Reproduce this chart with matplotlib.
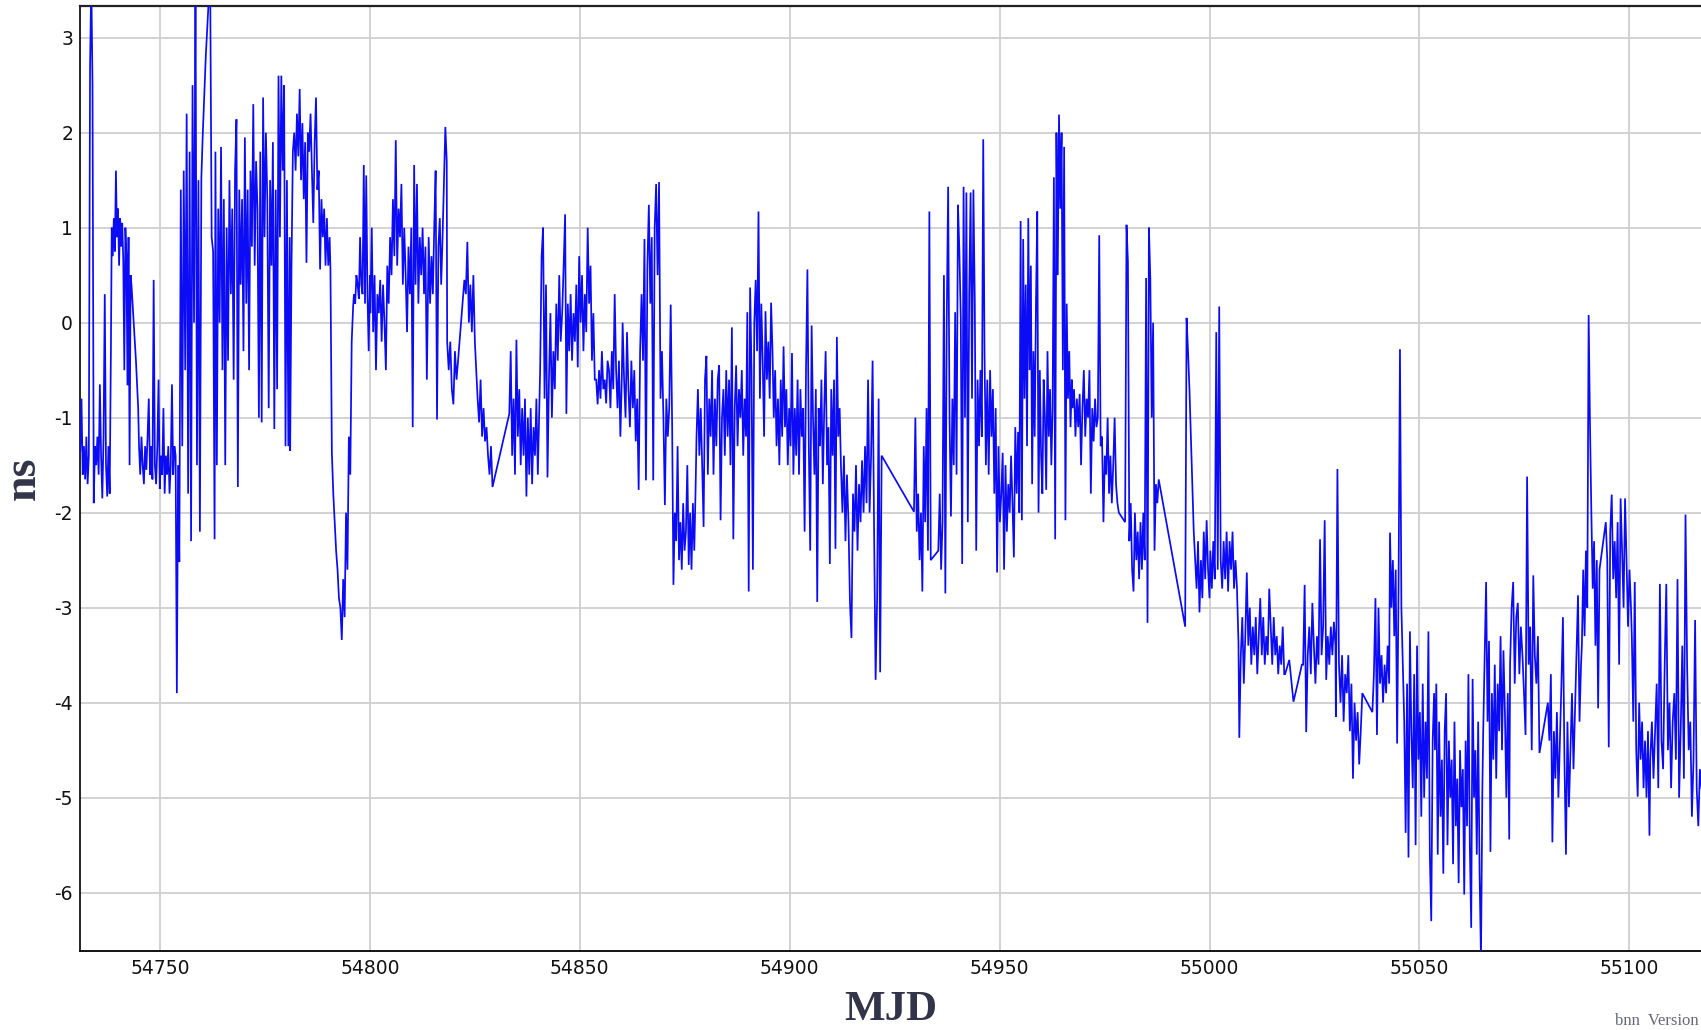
import numpy as np
import matplotlib
matplotlib.use("Agg")
import matplotlib.pyplot as plt

# ---- data: (start MJD, end MJD) spans and values in ns ----
A1_span = (54731.0, 54738.3)
A1 = [-1.35, -0.8, -1.6, -1.3, -1.65, -1.2, -1.7, -1.4, 2.7, 3.6, 2.5, -1.9, -1.3, -1.5, -1.2, -1.6,
      -0.65, -1.4, -1.85, -1.2, 0.3, -1.5, -1.83, -1.3, -1.8, -0.3]
A2_span = (54738.5, 54743.0)
A2 = [1.0, 0.7, 1.1, 0.75, 1.6, 0.9, 1.2, 0.6, 1.1, 0.8, 1.05, 0.65, -0.5, 1.0, 0.7, -0.66, 0.9, -1.5, 0.5]
A3_span = (54743.2, 54744.8)
A3 = [0.4, 0.0, -0.4, -0.9]
A4_span = (54745.0, 54754.3)
A4 = [-1.3, -1.6, -1.2, -1.5, -1.7, -1.3, -1.55, -1.2, -0.8, -1.6, -1.3, -1.65, 0.45, -1.5, -1.7, -1.3,
      -0.6, -1.75, -1.4, -1.6, -0.9, -1.8, -1.4, -1.6, -1.3, -1.8, -1.5, -0.65, -1.6, -1.3, -1.4, -3.9, -1.5]
A5_span = (54754.6, 54763.0)
A5 = [-2.52, 1.4, -1.3, 1.6, -0.5, 2.2, -1.8, 1.8, -2.3, 2.5, 0.0, 3.6, -1.5, 1.5, -2.2, 1.53, 2.0, 2.4,
      2.8, 3.1, 3.4, 3.6, 0.9, 0.75, -2.28]
A6_span = (54763.2, 54780.9)
A6 = [1.8, -1.5, 1.2, 0.0, 1.85, -0.5, 1.3, -1.5, 1.0, -0.4, 1.5, 0.3, 1.2, -0.6, 1.6, 2.14, -1.73, 1.4,
      0.4, 1.3, -0.3, 1.95, 0.2, 1.4, -0.5, 1.6, 0.8, 2.3, 0.6, 1.7, 1.2, -1.0, 1.8, -1.05, 2.37, 0.9,
      2.0, 1.3, -0.9, 1.5, 0.6, 1.9, -1.12, 1.4, -0.7, 2.6, 0.9, 2.6, 1.6, 2.5, -1.3, 1.5, -1.3, 0.9]
A7_span = (54781.0, 54790.4)
A7 = [-1.35, 0.6, 1.8, 2.0, 1.6, 2.2, 1.75, 2.46, 1.5, 2.1, 1.3, 1.9, 0.63, 2.0, 1.8, 2.2, 1.6, 1.05,
      1.9, 2.37, 1.4, 1.6, 0.56, 1.3, 0.9, 1.2, 0.6, 1.1, 0.6, 0.9]
A8_span = (54790.6, 54796.0)
A8 = [0.56, -1.37, -1.8, -2.1, -2.4, -2.6, -2.9, -3.0, -3.34, -2.7, -3.1, -2.0, -2.6, -1.2, -1.6, -0.2, 0.17]

B1_span = (54796.2, 54800.0)
B1 = [0.3, 0.2, 0.5, 0.4, 0.25, 0.9, 0.4, 0.3, 1.66, 0.2, 1.55, 0.3, -0.3, 0.5]
B2_span = (54800.1, 54813.9)
B2 = [0.1, 1.0, -0.1, 0.5, -0.5, 0.3, 0.1, 0.45, -0.2, 0.4, 0.0, -0.5, 0.6, 0.2, 0.9, 0.5, 1.3, 0.7,
      1.92, 0.6, 1.2, 0.9, 1.46, 0.4, 1.0, 0.5, -0.1, 0.8, 0.3, 1.0, -1.1, 1.66, 0.4, 1.46, 0.2, 0.9,
      0.5, 1.0, 0.3, 0.8, -0.6, 0.6]
B3_span = (54814.0, 54818.3)
B3 = [0.9, 0.2, 0.7, 0.3, 1.0, 1.6, -1.02, 0.8, 1.1, 0.4, 0.9, 1.5, 2.06, 1.7]
B4_span = (54818.4, 54821.0)
B4 = [-0.2, -0.5, -0.2, -0.7, -0.86, -0.3, -0.6, -0.4]
B5_span = (54822.5, 54825.0)
B5 = [0.45, 0.3, 0.85, 0.0, 0.4, -0.1, 0.5, -0.2]
B6_span = (54825.3, 54829.2)
B6 = [-0.47, -0.8, -1.05, -0.6, -1.2, -0.9, -1.25, -1.1, -1.4, -1.6, -1.3, -1.73]

C1_span = (54833.2, 54840.0)
C1 = [-0.96, -0.3, -1.4, -0.8, -1.6, -0.18, -1.2, -0.7, -1.5, -0.9, -1.4, -0.8, -1.83, -1.0, -1.6, -0.9,
      -1.7, -1.1, -1.4, -0.8, -1.6]
C2_span = (54840.2, 54846.5)
C2 = [-1.2, -0.5, 0.7, 1.0, -0.8, 0.4, -1.63, -0.6, 0.1, -1.0, -0.3, -0.7, 0.2, -0.4, 0.5, -0.2, 0.1, 0.6, 1.14]
C3_span = (54846.8, 54860.0)
C3 = [-0.96, 0.2, -0.3, 0.3, -0.4, 0.1, -0.2, 0.4, -0.47, 0.7, 0.0, 0.5, -0.3, 0.3, -0.1, 1.0, 0.2, 0.6,
      -0.4, 0.1, -0.6, -0.6, -0.86, -0.5, -0.8, -0.3, -0.7, -0.6, -0.85, -0.4, -0.5, -0.9, -0.3, -0.7,
      0.3, -0.5, -0.9, -0.4, -1.2, -0.6]
C4_span = (54860.2, 54872.0)
C4 = [0.0, -0.6, -1.0, -0.1, -0.7, -1.1, -0.4, -0.9, -0.5, -1.25, -0.8, -1.76, -0.3, 0.3, -0.4, 0.88,
      -1.66, 0.6, 1.24, 0.2, 0.9, -1.66, 1.0, 1.46, 0.5, 1.48, -0.8, -0.3, -1.0, -1.92, -0.8, -1.2, -0.9,
      0.19, -1.1]
C5_span = (54872.3, 54877.6)
C5 = [-2.76, -2.0, -2.3, -1.3, -2.5, -2.1, -2.6, -1.9, -2.4, -2.2, -1.5, -2.55, -2.0, -2.6, -1.9, -2.4, -1.7]
C6_span = (54877.8, 54889.6)
C6 = [-1.2, -0.7, -1.4, -0.9, -1.5, -2.15, -0.6, -0.35, -1.6, -0.8, -1.2, -0.5, -1.6, -0.8, -1.3, -0.6,
      -0.45, -2.08, -1.0, -0.7, -1.4, -0.5, -1.2, -0.6, -1.5, -0.05, -2.28, -0.9, -0.45, -1.3, -0.7, -1.0,
      -0.5, -1.4, -0.8, -1.2]
C7_span = (54889.9, 54895.9)
C7 = [0.11, -2.83, 0.37, -0.5, -2.6, 0.0, 0.45, -0.3, 1.17, -0.8, 0.2, -0.4, -1.2, 0.12, -0.6, -0.2,
      -0.8, 0.21, -0.3]
C8_span = (54896.2, 54911.9)
C8 = [-1.0, -0.5, -1.3, -0.8, -1.5, -0.6, -1.2, -0.25, -1.1, -0.7, -1.5, -0.9, -1.3, -0.32, -1.6, -0.9,
      -1.4, -0.6, -1.6, -0.7, -1.2, -0.9, -2.2, -0.5, 0.56, -1.3, -2.4, -0.03, -1.0, -1.6, -0.7, -2.94,
      -0.9, -1.3, -0.6, -1.7, -0.9, -0.3, -1.5, -1.1, -2.54, -0.7, -1.4, -0.6, -2.38, -0.15, -1.2, -0.9]
C9_span = (54912.2, 54921.9)
C9 = [-1.5, -2.0, -1.4, -2.3, -1.6, -2.1, -2.95, -3.32, -1.8, -2.2, -1.5, -2.4, -1.7, -2.1, -1.45, -2.0,
      -1.3, -1.9, -0.6, -2.0, -1.4, -0.4, -2.2, -3.76, -2.9, -0.8, -3.68, -1.4]

D1_span = (54929.6, 54933.6)
D1 = [-1.99, -1.0, -2.2, -1.8, -2.5, -2.0, -2.83, -1.3, -2.1, -0.9, -2.4, 1.17, -2.5]
D2_span = (54935.4, 54946.1)
D2 = [-2.4, -1.8, -2.6, -2.1, 0.5, -2.85, 0.03, 1.43, -1.0, -2.04, -0.8, -1.5, 0.11, -1.6, 1.24, 0.76,
      0.05, -2.54, 1.43, -1.0, 1.37, -2.1, 0.3, 1.37, -0.8, 1.4, 0.2, -2.4, -0.6, -1.3, -0.5, -1.2, 1.93]
D3_span = (54946.4, 54954.4)
D3 = [-0.3, -1.5, -0.6, -1.6, -0.5, -1.2, -0.7, -1.8, -0.9, -2.63, -1.3, -2.1, -1.8, -1.37, -2.6, -1.5,
      -2.2, -1.7, -2.0, -1.4, -1.9, -2.47, -1.1, -1.8, -1.15]
D4_span = (54954.7, 54967.2)
D4 = [-2.0, 1.07, -2.08, 0.88, -0.8, 0.4, -1.3, 1.1, -0.5, 0.6, -1.7, -0.3, -1.2, 0.2, 1.17, -2.0, -0.5,
      -1.4, -1.8, -0.6, -1.0, -1.76, -0.3, -1.2, -0.7, -1.5, -0.9, 1.53, -2.28, 2.0, 0.5, 2.19, 1.2, 2.0,
      -0.5, 1.85, -2.08, 0.2, -0.8, -0.3, -1.1, -0.6]
D5_span = (54967.4, 54978.4)
D5 = [-0.9, -0.7, -1.2, -0.8, -1.1, -0.75, -1.5, -0.9, -0.5, -1.2, -0.8, -1.0, -0.5, -1.8, -0.9, -1.25,
      -0.8, -1.1, -1.0, 0.92, -1.3, -1.2, -2.1, -1.4, -1.6, -1.0, -1.8, -1.4, -1.9, -1.5, -1.0, -1.7,
      -1.9, -2.0]
D6_span = (54979.9, 54987.9)
D6 = [-2.1, 1.03, 0.64, -2.3, -1.9, -2.6, -2.83, -2.0, -2.5, -2.2, -2.7, -2.1, -2.6, -2.0, -2.5, 0.47,
      -3.16, 1.0, 0.47, -1.0, 0.0, -2.4, -1.7, -1.9, -1.65]

E1_span = (54994.2, 55000.0)
E1 = [-3.2, 0.05, -0.3, -0.7, -1.2, -1.7, -2.2, -2.5, -2.8, -2.3, -3.05, -2.5, -2.9, -2.2, -2.7, -2.08,
      -2.6, -2.9]
E2_span = (55000.2, 55006.9)
E2 = [-2.4, -2.8, -2.3, -2.7, -0.1, -2.6, 0.17, -2.5, -2.8, -2.3, -2.7, -2.2, -2.83, -2.3, -2.6, -2.2,
      -2.8, -2.5, -2.8, -3.37]
E3_span = (55007.1, 55017.8)
E3 = [-4.37, -3.5, -3.1, -3.8, -3.3, -2.63, -3.4, -3.0, -3.6, -3.2, -3.5, -3.1, -3.7, -3.3, -2.9, -3.5,
      -3.1, -3.6, -3.3, -3.5, -2.8, -3.2, -3.6, -3.1, -3.5, -3.3, -3.7, -3.4, -3.6, -3.2, -3.7]
E4_span = (55018.0, 55022.0)
E4 = [-3.7, -3.55, -3.99, -3.8, -3.6]
E5_span = (55022.3, 55030.0)
E5 = [-3.6, -2.76, -4.31, -3.5, -3.2, -3.7, -2.95, -3.4, -3.8, -3.3, -3.6, -2.28, -3.5, -3.2, -2.08,
      -3.76, -3.3, -3.6, -3.2, -3.5, -3.15, -3.4]
E6_span = (55030.1, 55036.4)
E6 = [-4.15, -1.54, -3.6, -4.0, -3.5, -4.2, -3.7, -3.9, -3.5, -4.3, -3.8, -4.8, -4.0, -4.4, -4.1, -4.65,
      -4.3, -3.9]
E7_span = (55038.8, 55042.8)
E7 = [-4.1, -3.7, -2.9, -4.34, -3.0, -3.8, -3.5, -4.0, -3.6, -3.9, -3.4, -3.8]
E8_span = (55043.0, 55053.5)
E8 = [-2.21, -3.0, -2.5, -3.3, -2.6, -4.43, -2.8, -0.28, -3.0, -3.6, -4.2, -5.37, -3.8, -5.63, -3.25,
      -4.3, -4.9, -3.7, -5.5, -3.4, -4.6, -4.1, -5.2, -3.8, -5.0, -4.2, -4.8, -3.25, -5.6, -6.3, -4.4, -3.9]

F1_span = (55053.7, 55065.0)
F1 = [-4.5, -3.8, -5.6, -4.2, -5.2, -4.6, -5.8, -4.3, -3.9, -5.5, -4.4, -5.0, -4.6, -5.7, -4.2, -5.3,
      -4.8, -5.9, -4.5, -5.1, -4.7, -6.02, -4.4, -5.3, -3.7, -5.5, -6.37, -3.75, -5.0, -4.5, -5.6, -4.2,
      -5.8, -6.7, -4.9]
F2_span = (55065.2, 55071.4)
F2 = [-4.3, -3.5, -2.73, -4.2, -3.35, -5.57, -3.9, -4.6, -3.6, -4.8, -3.8, -4.3, -3.3, -4.5, -3.45, -4.1,
      -5.0, -3.9, -5.44]
F3_span = (55071.6, 55078.6)
F3 = [-3.6, -3.0, -2.73, -3.8, -3.1, -2.95, -3.7, -3.2, -3.5, -3.9, -4.34, -1.62, -3.6, -3.2, -4.5, -2.66,
      -3.5, -3.8, -3.3, -4.53]
F5_span = (55080.6, 55088.5)
F5 = [-4.0, -4.4, -3.7, -5.47, -4.3, -4.8, -4.1, -5.0, -4.4, -3.8, -3.1, -4.6, -5.6, -4.2, -5.1, -4.5,
      -3.9, -4.7, -4.1, -3.5, -2.87, -4.2, -3.6]
F6_span = (55088.7, 55092.9)
F6 = [-3.4, -2.6, -3.3, -2.4, -3.0, 0.08, -1.08, -2.0, -2.8, -2.3, -3.4, -2.5, -4.06, -2.6]
F7_span = (55094.4, 55100.4)
F7 = [-2.1, -2.5, -4.47, -2.2, -1.81, -2.7, -2.3, -2.9, -2.1, -3.6, -1.85, -2.4, -3.0, -1.85, -2.5, -3.2,
      -2.6, -3.0]
F8_span = (55100.6, 55104.8)
F8 = [-3.3, -4.2, -2.73, -4.5, -4.99, -4.0, -4.6, -4.2, -4.9, -4.4, -5.0, -4.3, -5.4]
F9_span = (55105.0, 55117.2)
F9 = [-4.6, -4.2, -4.8, -4.3, -3.8, -4.9, -2.75, -4.4, -4.7, -3.6, -2.75, -4.5, -4.0, -4.9, -4.2, -3.9,
      -4.6, -2.7, -5.0, -4.3, -3.4, -4.8, -2.02, -3.6, -4.5, -4.2, -5.2, -4.6, -3.13, -4.9, -5.3, -4.7, -4.9]

x_ticks = [54750, 54800, 54850, 54900, 54950, 55000, 55050, 55100]
y_ticks = [-6, -5, -4, -3, -2, -1, 0, 1, 2, 3]
x_label = "MJD"
y_label = "ns"
footer = "bnn  Version"

blocks = [
    (A1_span, A1), (A2_span, A2), (A3_span, A3), (A4_span, A4), (A5_span, A5), (A6_span, A6),
    (A7_span, A7), (A8_span, A8),
    (B1_span, B1), (B2_span, B2), (B3_span, B3), (B4_span, B4), (B5_span, B5), (B6_span, B6),
    (C1_span, C1), (C2_span, C2), (C3_span, C3), (C4_span, C4), (C5_span, C5), (C6_span, C6),
    (C7_span, C7), (C8_span, C8), (C9_span, C9),
    (D1_span, D1), (D2_span, D2), (D3_span, D3), (D4_span, D4), (D5_span, D5), (D6_span, D6),
    (E1_span, E1), (E2_span, E2), (E3_span, E3), (E4_span, E4), (E5_span, E5), (E6_span, E6),
    (E7_span, E7), (E8_span, E8),
    (F1_span, F1), (F2_span, F2), (F3_span, F3), (F5_span, F5), (F6_span, F6), (F7_span, F7),
    (F8_span, F8), (F9_span, F9),
]

xs, ys = [], []
for (x0, x1), vals in blocks:
    xs.append(np.linspace(x0, x1, len(vals)))
    ys.append(np.asarray(vals, dtype=float))
x = np.concatenate(xs)
y = np.concatenate(ys)

# ---- figure ----
W, H = 1701, 1030
fig = plt.figure(figsize=(W / 100, H / 100), dpi=100)
ax_left, ax_right, ax_top, ax_bottom = 80, 1701, 6, 951
ax = fig.add_axes([ax_left / W, 1 - ax_bottom / H, (ax_right - ax_left) / W, (ax_bottom - ax_top) / H])

ax.plot(x, y, color="#0b0bf5", lw=1.25, solid_joinstyle="miter", antialiased=True, zorder=3)

ax.set_xlim(54730.94, 55117.08)
ax.set_ylim(-6.614, 3.333)
ax.set_xticks(x_ticks)
ax.set_yticks(y_ticks)
ax.set_xticklabels([str(t) for t in x_ticks])
ax.set_yticklabels([str(t) for t in y_ticks])
ax.grid(True, color="#cfcfcf", lw=1.3, zorder=0)
ax.set_axisbelow(True)

ax.tick_params(axis="both", length=0, labelsize=13.5, colors="#111111")
ax.tick_params(axis="x", pad=6)
ax.tick_params(axis="y", pad=5)
for lab in ax.get_xticklabels() + ax.get_yticklabels():
    lab.set_family("DejaVu Sans")

ax.spines["right"].set_visible(False)
ax.spines["left"].set_color("#000000")
ax.spines["left"].set_linewidth(1.2)
ax.spines["bottom"].set_color("#000000")
ax.spines["bottom"].set_linewidth(1.3)
ax.spines["top"].set_color("#222222")
ax.spines["top"].set_linewidth(1.6)

label_color = "#33334a"
fig.text((ax_left + ax_right) / 2 / W, 1 / H, x_label, ha="center", va="bottom",
         fontsize=31, fontweight="bold", family="Liberation Serif", color=label_color)
fig.text(24 / W, 1 - (ax_top + ax_bottom) / 2 / H, y_label, ha="center", va="center",
         rotation=90, fontsize=33, fontweight="bold", family="Liberation Serif", color=label_color)
fig.text(1699 / W, 1 / H, footer, ha="right", va="bottom",
         fontsize=12, family="Liberation Serif", color="#666677")

fig.savefig("out.png", dpi=100)
